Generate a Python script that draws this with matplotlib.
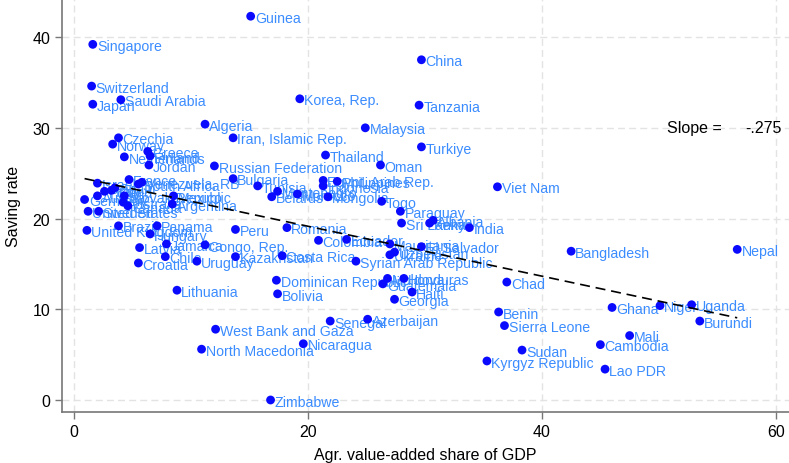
import numpy as np
import matplotlib
matplotlib.use("Agg")
import matplotlib.pyplot as plt

plt.rcParams['font.family'] = ['Liberation Sans', 'DejaVu Sans']

DOT = "#0a0aff"; LAB = "#3b8cff"; GRID = "#e3e3e3"

countries = ["Guinea", "Singapore", "Switzerland", "Japan", "Saudi Arabia", "Korea, Rep.", "China", "Tanzania",
             "Malaysia", "Algeria", "Iran, Islamic Rep.", "Turkiye", "Czechia", "Norway", "Greece", "Finland",
             "Netherlands", "Jordan", "Russian Federation", "Thailand", "Oman", "France", "Israel", "Venezuela, RB",
             "South Africa", "Spain", "Italy", "Poland", "Slovak Republic", "Germany", "Austria", "Mexico",
             "Argentina", "Australia", "Canada", "United States", "Sweden", "Bulgaria", "Tunisia", "Montenegro",
             "Morocco", "Belarus", "Egypt, Arab Rep.", "Philippines", "Indonesia", "Mongolia", "Togo", "Viet Nam",
             "Paraguay", "Sri Lanka", "Albania", "Kenya", "India", "Romania", "Peru", "Colombia", "Ecuador",
             "Mauritania", "Uzbekistan", "Ukraine", "El Salvador", "Syrian Arab Republic", "Costa Rica",
             "Kazakhstan", "Congo, Rep.", "Jamaica", "Uruguay", "Chile", "Latvia", "Croatia", "Lithuania",
             "United Kingdom", "Brazil", "Panama", "Hungary", "Dominican Republic", "Bolivia", "Moldova",
             "Honduras", "Guatemala", "Haiti", "Georgia", "Chad", "Benin", "Sierra Leone", "Senegal", "Azerbaijan",
             "West Bank and Gaza", "North Macedonia", "Nicaragua", "Sudan", "Kyrgyz Republic", "Zimbabwe",
             "Bangladesh", "Nepal", "Ghana", "Niger", "Uganda", "Burundi", "Mali", "Cambodia", "Lao PDR"]
agr_share = [15.1, 1.6, 1.5, 1.6, 4.0, 19.3, 29.7, 29.5,
             24.9, 11.2, 13.6, 29.7, 3.8, 3.3, 6.3, 6.5,
             4.3, 6.4, 12.0, 21.5, 26.2, 4.7, 2.0, 5.8,
             5.5, 3.5, 3.2, 2.6, 4.3, 0.9, 2.0, 8.5,
             8.4, 4.2, 4.6, 1.2, 2.1, 13.6, 15.7, 17.4,
             19.1, 16.9, 21.3, 22.5, 21.3, 21.7, 26.3, 36.2,
             27.9, 28.0, 30.7, 30.4, 33.8, 18.2, 13.8, 20.9, 23.3,
             27.0, 27.4, 27.0, 29.7, 24.1, 17.8,
             13.8, 11.2, 7.9, 10.5, 7.8, 5.6, 5.5, 8.8,
             1.1, 3.8, 7.1, 6.5, 17.3, 17.4, 26.8,
             28.2, 26.4, 28.9, 27.4, 37.0, 36.3, 36.8, 21.9, 25.1,
             12.1, 10.9, 19.6, 38.3, 35.3, 16.8,
             42.5, 56.7, 46.0, 50.1, 52.8, 53.5, 47.5, 45.0, 45.4]
saving_rate = [42.3, 39.2, 34.6, 32.6, 33.1, 33.2, 37.5, 32.5,
               30.0, 30.4, 28.9, 27.9, 28.9, 28.2, 27.4, 26.9,
               26.8, 25.9, 25.8, 27.0, 25.9, 24.3, 23.9, 24.0,
               23.8, 23.4, 23.1, 23.0, 22.5, 22.1, 22.5, 22.5,
               21.6, 21.8, 21.4, 20.8, 20.8, 24.4, 23.6, 23.0,
               22.7, 22.4, 24.2, 24.1, 23.6, 22.4, 21.9, 23.5,
               20.8, 19.5, 19.8, 19.5, 19.0, 19.0, 18.8, 17.6, 17.7,
               17.2, 16.3, 16.0, 16.9, 15.3, 15.9,
               15.8, 17.1, 17.2, 15.3, 15.8, 16.8, 15.1, 12.1,
               18.7, 19.2, 19.2, 18.3, 13.2, 11.7, 13.4,
               13.4, 12.8, 11.9, 11.1, 13.0, 9.7, 8.2, 8.7, 8.9,
               7.8, 5.6, 6.2, 5.5, 4.3, 0.0,
               16.4, 16.6, 10.2, 10.4, 10.5, 8.7, 7.1, 6.1, 3.4]

slope = -0.275
intercept = 24.65

fig = plt.figure(figsize=(7.89, 4.64), dpi=100)
ax = fig.add_axes([0.0786, 0.11, 0.921, 0.89])

x = np.array(agr_share); y = np.array(saving_rate)
for name, xi, yi in zip(countries, x, y):
    ax.annotate(name, (xi, yi), xytext=(3, -1.2), textcoords="offset points",
                ha="left", va="center", fontsize=10.2, color=LAB, zorder=3)
ax.scatter(x, y, s=40, color=DOT, edgecolors="none", zorder=4)

xl = np.array([x.min(), x.max()])
ax.plot(xl, intercept + slope * xl, color="black", lw=1.2, ls=(0, (6, 3.5)), zorder=5)

ax.text(50.7, 30.0, "Slope =", fontsize=11.5, va="center", ha="left", color="black")
ax.text(60.5, 30.0, f"{slope:.3f}".replace("0.", "."), fontsize=11.5, va="center", ha="right", color="black")

ax.set_xlim(-1.03, 61.1)
ax.set_ylim(-1.32, 44.2)
ax.set_xticks([0, 20, 40, 60])
ax.set_yticks([0, 10, 20, 30, 40])
ax.grid(True, color=GRID, ls=(0, (5, 3)), lw=1)
ax.set_axisbelow(True)
for s in ["top", "right"]:
    ax.spines[s].set_visible(False)
for s in ["left", "bottom"]:
    ax.spines[s].set_color("#777777"); ax.spines[s].set_linewidth(1.2)
ax.tick_params(axis="both", labelsize=11.5, length=5, color="#777777", width=1)
ax.set_xlabel("Agr. value-added share of GDP", fontsize=11.5, labelpad=6)
ax.set_ylabel("Saving rate", fontsize=11.5, labelpad=8)

fig.savefig("out.png", dpi=100, facecolor="white")
